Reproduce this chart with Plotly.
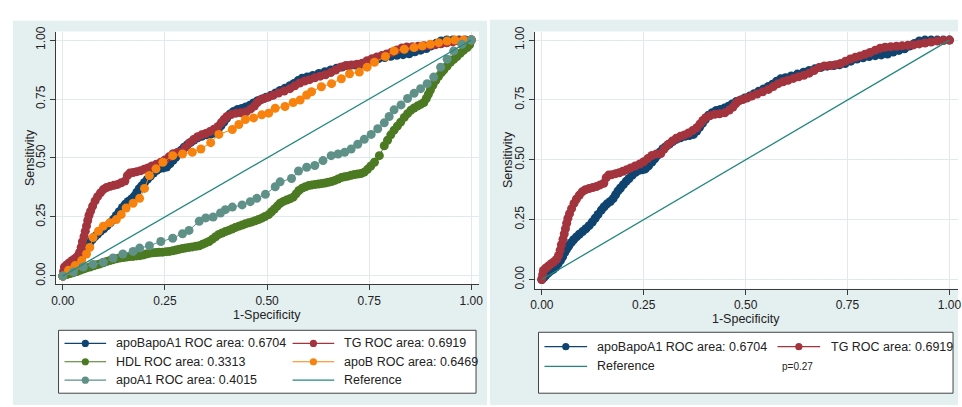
import plotly.graph_objects as go

# ---------------- data ----------------
apoBapoA1_x = [0.000,0.005,0.010,0.016,0.022,0.028,0.034,0.040,0.046,0.051,0.056,0.061,0.066,0.072,0.078,0.085,0.092,0.100,0.108,0.116,
               0.124,0.131,0.138,0.146,0.153,0.160,0.168,0.175,0.181,0.187,0.193,0.200,0.207,0.214,0.222,0.230,0.238,0.246,0.254,0.262,
               0.270,0.277,0.283,0.290,0.297,0.305,0.313,0.321,0.330,0.340,0.351,0.362,0.372,0.380,0.387,0.394,0.401,0.409,0.418,0.428,
               0.438,0.448,0.458,0.467,0.477,0.488,0.498,0.510,0.521,0.532,0.544,0.556,0.566,0.576,0.586,0.598,0.612,0.627,0.642,0.656,
               0.670,0.685,0.700,0.716,0.730,0.744,0.758,0.773,0.788,0.803,0.818,0.833,0.848,0.862,0.876,0.890,0.902,0.914,0.926,0.940,
               0.955,0.970,0.985,1.000]
apoBapoA1_y = [0.000,0.008,0.018,0.028,0.036,0.042,0.052,0.066,0.080,0.095,0.112,0.127,0.140,0.154,0.166,0.178,0.189,0.200,0.212,0.225,
               0.240,0.256,0.272,0.290,0.304,0.316,0.326,0.338,0.354,0.370,0.382,0.396,0.410,0.422,0.436,0.448,0.456,0.458,0.462,0.475,
               0.490,0.504,0.518,0.533,0.546,0.556,0.566,0.576,0.586,0.592,0.598,0.601,0.606,0.620,0.636,0.652,0.668,0.686,0.697,0.706,
               0.710,0.716,0.724,0.733,0.743,0.750,0.758,0.766,0.776,0.786,0.796,0.806,0.816,0.828,0.838,0.843,0.850,0.858,0.866,0.873,
               0.880,0.886,0.891,0.894,0.897,0.902,0.912,0.921,0.926,0.931,0.935,0.938,0.942,0.950,0.957,0.964,0.975,0.986,0.996,1.000,
               1.000,1.000,1.000,1.000]

TG_x = [0.000,0.002,0.004,0.010,0.016,0.023,0.030,0.036,0.041,0.045,0.048,0.052,0.055,0.058,0.061,0.064,0.068,0.073,0.079,0.085,
        0.092,0.099,0.107,0.116,0.125,0.134,0.143,0.152,0.158,0.164,0.172,0.181,0.190,0.199,0.208,0.218,0.229,0.240,0.250,0.260,
        0.270,0.281,0.292,0.300,0.310,0.320,0.330,0.340,0.350,0.360,0.370,0.380,0.388,0.395,0.402,0.412,0.424,0.436,0.449,0.460,
        0.469,0.476,0.483,0.493,0.503,0.515,0.528,0.542,0.556,0.568,0.580,0.592,0.604,0.617,0.630,0.643,0.656,0.668,0.680,0.693,
        0.707,0.721,0.733,0.745,0.757,0.769,0.781,0.793,0.805,0.818,0.830,0.842,0.856,0.870,0.884,0.898,0.912,0.926,0.940,0.955,
        0.970,0.985,1.000]
TG_y = [0.000,0.020,0.038,0.048,0.056,0.066,0.074,0.084,0.100,0.122,0.145,0.168,0.190,0.212,0.235,0.256,0.275,0.296,0.318,0.336,
        0.352,0.366,0.375,0.380,0.384,0.388,0.395,0.402,0.425,0.436,0.438,0.442,0.446,0.452,0.458,0.466,0.474,0.482,0.492,0.505,
        0.518,0.524,0.526,0.545,0.564,0.578,0.590,0.598,0.604,0.612,0.622,0.634,0.650,0.664,0.676,0.684,0.690,0.692,0.696,0.708,
        0.720,0.735,0.746,0.752,0.758,0.766,0.775,0.784,0.794,0.806,0.818,0.826,0.832,0.840,0.847,0.853,0.862,0.873,0.885,0.892,
        0.894,0.897,0.902,0.912,0.921,0.928,0.934,0.941,0.948,0.958,0.966,0.970,0.972,0.974,0.976,0.978,0.980,0.984,0.988,0.992,
        0.996,0.998,1.000]

HDL_x = [0.000,0.010,0.018,0.026,0.034,0.042,0.050,0.058,0.066,0.075,0.083,0.091,0.099,0.107,0.115,0.123,0.131,0.139,0.148,0.156,
         0.164,0.172,0.180,0.188,0.196,0.204,0.212,0.220,0.228,0.236,0.244,0.253,0.261,0.269,0.277,0.285,0.293,0.301,0.309,0.317,
         0.326,0.334,0.342,0.350,0.358,0.366,0.374,0.382,0.390,0.398,0.406,0.414,0.422,0.431,0.439,0.447,0.455,0.463,0.471,0.479,
         0.487,0.495,0.504,0.511,0.518,0.525,0.532,0.540,0.548,0.556,0.564,0.571,0.578,0.586,0.594,0.602,0.610,0.618,0.626,0.634,
         0.642,0.650,0.658,0.666,0.674,0.682,0.690,0.698,0.706,0.714,0.722,0.730,0.738,0.746,0.754,0.763,0.775,0.787,0.795,0.803,
         0.811,0.819,0.827,0.836,0.844,0.852,0.860,0.868,0.876,0.884,0.890,0.895,0.900,0.906,0.913,0.920,0.927,0.933,0.941,0.949,
         0.957,0.965,0.973,0.981,0.990,0.996,1.000]
HDL_y = [0.000,0.006,0.010,0.014,0.019,0.024,0.029,0.034,0.038,0.043,0.047,0.051,0.056,0.061,0.065,0.069,0.073,0.076,0.078,0.080,
         0.082,0.083,0.085,0.086,0.089,0.093,0.096,0.098,0.099,0.100,0.101,0.103,0.104,0.107,0.110,0.113,0.116,0.119,0.121,0.123,
         0.126,0.128,0.134,0.140,0.146,0.156,0.166,0.176,0.182,0.188,0.193,0.199,0.205,0.211,0.216,0.221,0.225,0.229,0.234,0.239,
         0.245,0.252,0.260,0.272,0.284,0.296,0.308,0.316,0.322,0.327,0.334,0.348,0.362,0.372,0.378,0.383,0.386,0.388,0.390,0.392,
         0.394,0.397,0.400,0.405,0.411,0.417,0.420,0.423,0.427,0.430,0.432,0.434,0.440,0.452,0.466,0.482,0.510,0.552,0.575,0.598,
         0.618,0.635,0.652,0.672,0.688,0.702,0.712,0.720,0.727,0.735,0.752,0.770,0.788,0.808,0.828,0.846,0.862,0.874,0.890,0.906,
         0.918,0.930,0.944,0.956,0.968,0.980,1.000]

apoB_x = [0.000,0.014,0.030,0.046,0.058,0.066,0.074,0.087,0.099,0.115,0.131,0.143,0.155,0.172,0.188,0.200,0.212,0.228,0.245,0.269,
          0.293,0.317,0.338,0.362,0.382,0.415,0.431,0.447,0.467,0.487,0.504,0.520,0.544,0.564,0.581,0.597,0.609,0.633,0.658,0.682,
          0.702,0.726,0.745,0.763,0.790,0.811,0.836,0.860,0.880,0.900,0.920,0.941,0.960,0.981,1.000]
apoB_y = [0.000,0.024,0.044,0.065,0.093,0.121,0.163,0.190,0.211,0.225,0.239,0.260,0.288,0.308,0.329,0.371,0.426,0.454,0.482,0.510,
          0.517,0.524,0.538,0.565,0.600,0.621,0.642,0.663,0.670,0.683,0.690,0.711,0.718,0.735,0.746,0.767,0.781,0.802,0.815,0.836,
          0.857,0.864,0.885,0.906,0.930,0.954,0.961,0.968,0.975,0.982,0.989,0.996,1.000,1.000,1.000]

apoA1_x = [0.000,0.026,0.050,0.074,0.099,0.123,0.147,0.172,0.188,0.212,0.240,0.269,0.293,0.309,0.334,0.350,0.368,0.386,0.398,0.415,
           0.439,0.459,0.475,0.496,0.520,0.532,0.560,0.577,0.597,0.617,0.637,0.657,0.674,0.690,0.706,0.722,0.738,0.755,0.771,0.787,
           0.799,0.811,0.828,0.844,0.860,0.876,0.892,0.908,0.925,0.941,0.957,0.977,1.000]
apoA1_y = [0.000,0.017,0.038,0.049,0.058,0.076,0.093,0.104,0.118,0.128,0.146,0.160,0.179,0.193,0.232,0.246,0.250,0.267,0.281,0.292,
           0.301,0.315,0.329,0.346,0.378,0.399,0.413,0.445,0.461,0.468,0.489,0.510,0.517,0.524,0.538,0.558,0.579,0.600,0.624,0.649,
           0.676,0.704,0.725,0.752,0.774,0.794,0.815,0.843,0.885,0.919,0.954,0.982,1.000]

ref_x = [0, 1]
ref_y = [0, 1]

tick_vals = [0, 0.25, 0.5, 0.75, 1]
tick_text = ["0.00", "0.25", "0.50", "0.75", "1.00"]

left_series = [
    ("apoBapoA1 ROC area: 0.6704", apoBapoA1_x, apoBapoA1_y, "#0f4470"),
    ("TG ROC area: 0.6919", TG_x, TG_y, "#a3333d"),
    ("HDL ROC area: 0.3313", HDL_x, HDL_y, "#4b7a22"),
    ("apoB ROC area: 0.6469", apoB_x, apoB_y, "#f7830e"),
    ("apoA1 ROC area: 0.4015", apoA1_x, apoA1_y, "#5f9189"),
]
right_series = left_series[:2]
REF_COLOR = "#23877f"

# ---------------- layout helpers ----------------
W, H = 962, 407
def px(x):
    return x / W
def py(y):
    return 1 - y / H

FONT = "Liberation Sans, Arial, sans-serif"
TXT = "#222222"
BG = "#e4eff0"
GRID = "#e0eaed"
AXC = "#3a3a3a"

fig = go.Figure()

def add_panel(series, xa, ya):
    for name, xs, ys, col in series:
        fig.add_trace(go.Scatter(x=xs, y=ys, mode="lines+markers", name=name,
                                 line=dict(color=col, width=1),
                                 marker=dict(color=col, size=9, line=dict(width=0)),
                                 xaxis=xa, yaxis=ya, showlegend=False, hoverinfo="skip"))
    fig.add_trace(go.Scatter(x=ref_x, y=ref_y, mode="lines", name="Reference",
                             line=dict(color=REF_COLOR, width=1.3),
                             xaxis=xa, yaxis=ya, showlegend=False, hoverinfo="skip"))

add_panel(left_series, "x", "y")
add_panel(right_series, "x2", "y2")

axis_common = dict(tickvals=tick_vals, ticktext=tick_text, showgrid=True, gridcolor=GRID, gridwidth=1,
                   zeroline=False, showline=True, linecolor=AXC, linewidth=1, ticks="outside",
                   ticklen=5, tickcolor=AXC, tickwidth=1, mirror=False,
                   tickfont=dict(family=FONT, size=12, color=TXT))

# panel geometry (pixels)
L_x0, L_x1, L_top, L_bot = 52, 479, 27, 284
R_x0, R_x1, R_top, R_bot = 535, 962, 27, 288.7

fig.update_layout(
    width=W, height=H, margin=dict(l=0, r=0, t=0, b=0),
    paper_bgcolor="white", plot_bgcolor="white", showlegend=False,
    font=dict(family=FONT, size=12, color=TXT),
    xaxis=dict(domain=[px(L_x0), px(L_x1)], range=[-0.0178, 1.019], anchor="y", **axis_common),
    yaxis=dict(domain=[py(L_bot), py(L_top)], range=[-0.0346, 1.036], anchor="x", tickangle=-90, **axis_common),
    xaxis2=dict(domain=[px(R_x0), px(R_x1)], range=[-0.0178, 1.021], anchor="y2", **axis_common),
    yaxis2=dict(domain=[py(R_bot), py(R_top)], range=[-0.0386, 1.0357], anchor="x2", tickangle=-90, **axis_common),
)

shapes = []
# panel backgrounds
shapes.append(dict(type="rect", xref="paper", yref="paper", x0=px(9), x1=px(487), y0=py(407), y1=py(16),
                   fillcolor=BG, line=dict(width=0), layer="below"))
shapes.append(dict(type="rect", xref="paper", yref="paper", x0=px(490), x1=px(962), y0=py(407), y1=py(15),
                   fillcolor=BG, line=dict(width=0), layer="below"))
# plot regions
shapes.append(dict(type="rect", xref="paper", yref="paper", x0=px(L_x0), x1=px(L_x1), y0=py(L_bot), y1=py(L_top),
                   fillcolor="white", line=dict(width=0), layer="below"))
shapes.append(dict(type="rect", xref="paper", yref="paper", x0=px(R_x0), x1=px(R_x1), y0=py(R_bot), y1=py(R_top),
                   fillcolor="white", line=dict(width=0), layer="below"))
# legend boxes
shapes.append(dict(type="rect", xref="paper", yref="paper", x0=px(55), x1=px(476), y0=py(395), y1=py(331),
                   fillcolor="white", line=dict(color="#444444", width=1), layer="below"))
shapes.append(dict(type="rect", xref="paper", yref="paper", x0=px(539), x1=px(957), y0=py(395), y1=py(333),
                   fillcolor="white", line=dict(color="#444444", width=1), layer="below"))

annotations = []

def legend_item(x_line0, x_line1, x_text, y, label, color, marker=True):
    shapes.append(dict(type="line", xref="paper", yref="paper", x0=px(x_line0), x1=px(x_line1),
                       y0=py(y), y1=py(y), line=dict(color=color, width=1.2)))
    if marker:
        xc = (x_line0 + x_line1) / 2
        shapes.append(dict(type="circle", xref="paper", yref="paper", xsizemode="pixel", ysizemode="pixel",
                           xanchor=px(xc), yanchor=py(y), x0=-3.6, x1=3.6, y0=-3.6, y1=3.6,
                           fillcolor=color, line=dict(width=0)))
    annotations.append(dict(xref="paper", yref="paper", x=px(x_text), y=py(y), text=label, showarrow=False,
                            xanchor="left", yanchor="middle", font=dict(family=FONT, size=12.5, color=TXT)))

# left legend (2 columns, row-wise)
rows_L = [344.3, 363, 381.7]
items_L = [(name, col) for name, _, _, col in left_series] + [("Reference", REF_COLOR)]
for i, (name, col) in enumerate(items_L):
    r, c = divmod(i, 2)
    if c == 0:
        legend_item(61, 103, 111, rows_L[r], name, col, marker=(name != "Reference"))
    else:
        legend_item(291, 333, 341, rows_L[r], name, col, marker=(name != "Reference"))

# right legend
rows_R = [347.7, 367.7]
items_R = [(name, col) for name, _, _, col in right_series] + [("Reference", REF_COLOR)]
for i, (name, col) in enumerate(items_R):
    r, c = divmod(i, 2)
    if c == 0:
        legend_item(545, 588, 596, rows_R[r], name, col, marker=(name != "Reference"))
    else:
        legend_item(780, 823, 832, rows_R[r], name, col, marker=(name != "Reference"))
annotations.append(dict(xref="paper", yref="paper", x=px(783), y=py(368), text="p=0.27", showarrow=False,
                        xanchor="left", yanchor="middle", font=dict(family=FONT, size=10, color=TXT)))

# axis titles
annotations.append(dict(xref="paper", yref="paper", x=px(27), y=py(155), text="Sensitivity", textangle=-90,
                        showarrow=False, xanchor="center", yanchor="middle", font=dict(family=FONT, size=12.5, color=TXT)))
annotations.append(dict(xref="paper", yref="paper", x=px(509), y=py(157), text="Sensitivity", textangle=-90,
                        showarrow=False, xanchor="center", yanchor="middle", font=dict(family=FONT, size=12.5, color=TXT)))
annotations.append(dict(xref="paper", yref="paper", x=px(265), y=py(315), text="1-Specificity",
                        showarrow=False, xanchor="center", yanchor="middle", font=dict(family=FONT, size=12.5, color=TXT)))
annotations.append(dict(xref="paper", yref="paper", x=px(748), y=py(319), text="1-Specificity",
                        showarrow=False, xanchor="center", yanchor="middle", font=dict(family=FONT, size=12.5, color=TXT)))

fig.update_layout(shapes=shapes, annotations=annotations)

fig.write_html("out.html", config={"displayModeBar": False},
               post_script="document.body.style.margin='0';document.body.style.overflow='hidden';")
